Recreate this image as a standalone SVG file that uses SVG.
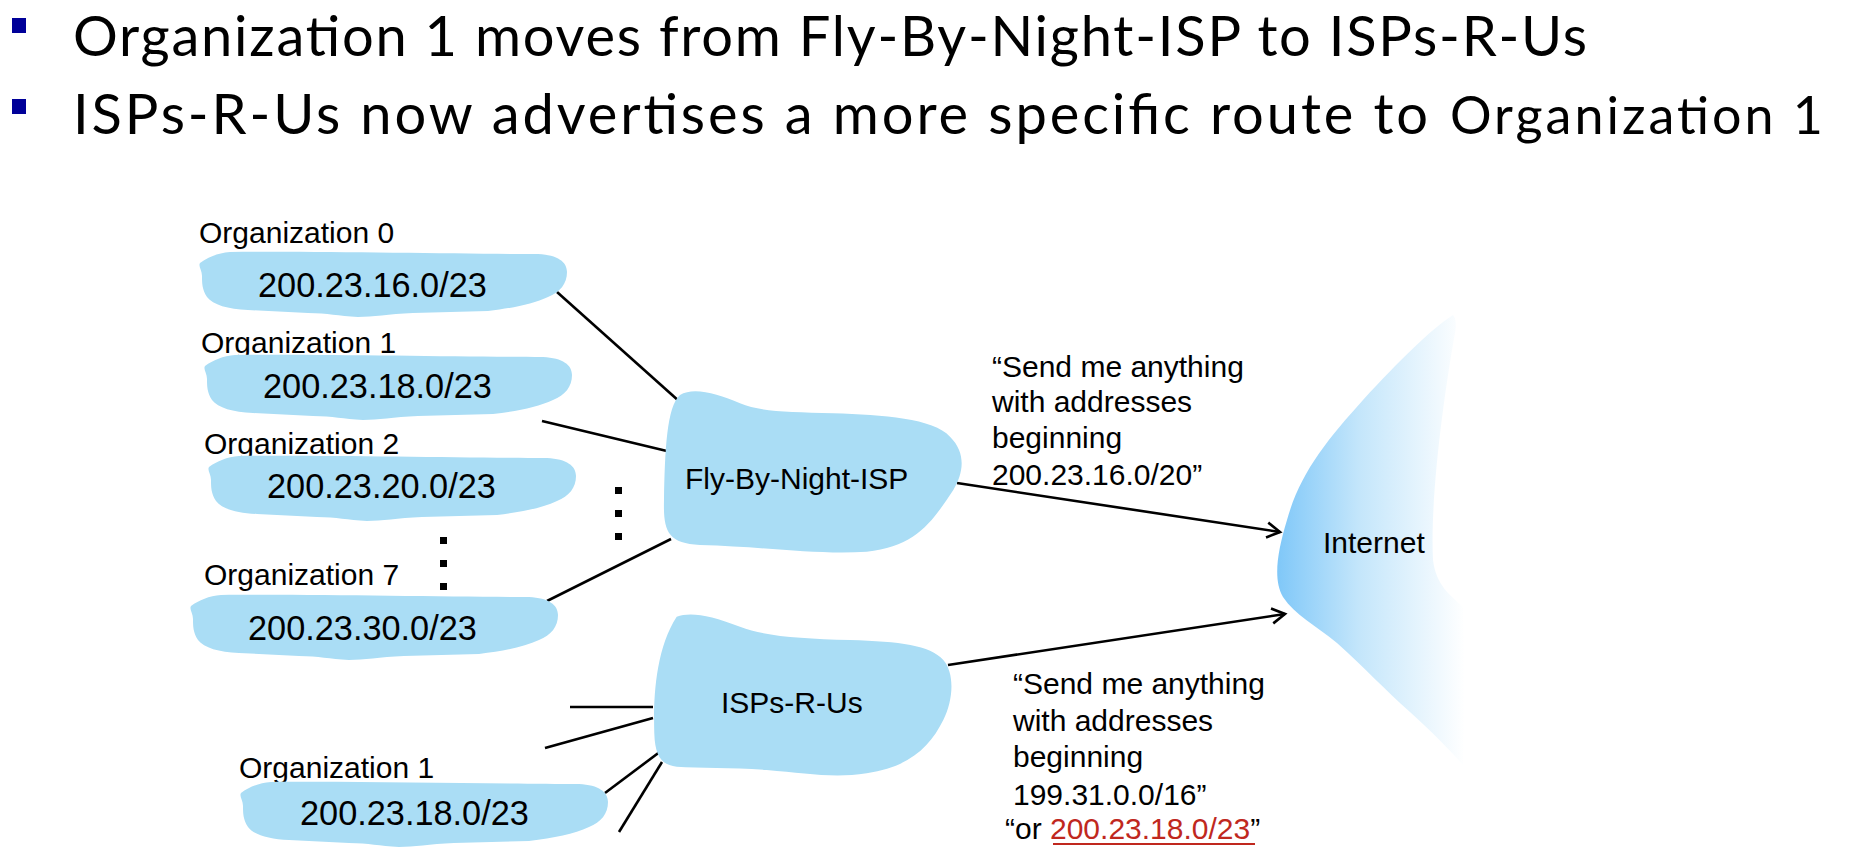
<svg xmlns="http://www.w3.org/2000/svg" width="1850" height="862" viewBox="0 0 1850 862">
  <style>
    .title { font-family: Lato, "Open Sans", sans-serif; font-size: 56px; fill: #000; }
    .title-sm { font-family: Lato, "Open Sans", sans-serif; font-size: 52px; fill: #000; }
    .bullet { fill: #000099; }
    .lbl { font-family: "Liberation Sans", Arial, sans-serif; font-size: 30px; fill: #000; }
    .addr { font-family: "Liberation Sans", Arial, sans-serif; font-size: 34.3px; fill: #000; }
    .blob { fill: #AADDF5; }
    .link { stroke: #000; stroke-width: 2.6; fill: none; }
    .dot { fill: #000; }
    .red { fill: #C0281E; }
  </style>
  <defs>
    <!-- highlighter-stroke shape used behind each organization's prefix -->
    <path id="orgShape" d="M 2 11 C 10 5, 20 1, 32 0 C 120 -1, 260 2, 340 2 C 360 3, 369 10, 369 20 C 369 32, 362 40, 350 45 C 335 52, 315 56, 290 59 L 215 61 C 190 62, 175 65, 160 65 C 140 64, 130 61, 110 61 L 50 58 C 30 57, 15 53, 9 45 C 4 38, 4 30, 4 24 C 4 18, 0 14, 2 11 Z"/>
    <marker id="arrow" viewBox="0 0 18 18" refX="15" refY="9" markerWidth="18" markerHeight="18" markerUnits="userSpaceOnUse" orient="auto">
      <path d="M 2 1.5 L 15 9 L 2 16.5" fill="none" stroke="#000" stroke-width="2.6" stroke-linejoin="miter"/>
    </marker>
    <linearGradient id="netGrad" gradientUnits="userSpaceOnUse" x1="1273" y1="0" x2="1465" y2="0">
      <stop offset="0" stop-color="#7CC6F8"/>
      <stop offset="0.45" stop-color="#C4E6FB"/>
      <stop offset="1" stop-color="#FFFFFF"/>
    </linearGradient>
  </defs>

  <!-- slide heading -->
  <g id="heading">
    <rect class="bullet" x="12" y="18" width="14" height="15"/>
    <text class="title" x="73" y="56" textLength="1514">Organization 1 moves from Fly-By-Night-ISP to ISPs-R-Us</text>
    <rect class="bullet" x="12" y="99" width="14" height="15"/>
    <text class="title" x="73" y="134" textLength="1355">ISPs-R-Us now advertises a more specific route to</text>
    <text class="title-sm" x="1450" y="134" textLength="373">Organization 1</text>
  </g>

  <!-- links between organizations, ISPs and the Internet -->
  <g id="connectors">
    <line class="link" x1="557" y1="292" x2="680" y2="402"/>
    <line class="link" x1="542" y1="421" x2="671" y2="452"/>
    <line class="link" x1="547" y1="601" x2="671" y2="539"/>
    <line class="link" x1="570" y1="707" x2="653" y2="707"/>
    <line class="link" x1="545" y1="748" x2="653" y2="718"/>
    <line class="link" x1="605" y1="793" x2="661" y2="751"/>
    <line class="link" x1="619" y1="832" x2="662" y2="762"/>
    <line class="link" x1="957" y1="483" x2="1280" y2="532" marker-end="url(#arrow)"/>
    <line class="link" x1="948" y1="665" x2="1285" y2="614" marker-end="url(#arrow)"/>
  </g>

  <!-- ellipsis marks for the organizations not shown -->
  <g id="ellipsis">
    <rect class="dot" x="440" y="537" width="7" height="7"/>
    <rect class="dot" x="440" y="560" width="7" height="7"/>
    <rect class="dot" x="440" y="583" width="7" height="7"/>
    <rect class="dot" x="615" y="487" width="7" height="7"/>
    <rect class="dot" x="615" y="510" width="7" height="7"/>
    <rect class="dot" x="615" y="533" width="7" height="7"/>
  </g>

  <g id="org0">
    <text class="lbl" x="199" y="243">Organization 0</text>
    <use href="#orgShape" class="blob" transform="translate(198 252)"/>
    <text class="addr" x="258" y="297">200.23.16.0/23</text>
  </g>
  <g id="org1">
    <text class="lbl" x="201" y="353">Organization 1</text>
    <use href="#orgShape" class="blob" transform="translate(203 355)"/>
    <text class="addr" x="263" y="398">200.23.18.0/23</text>
  </g>
  <g id="org2">
    <text class="lbl" x="204" y="454">Organization 2</text>
    <use href="#orgShape" class="blob" transform="translate(207 456)"/>
    <text class="addr" x="267" y="498">200.23.20.0/23</text>
  </g>
  <g id="org7">
    <text class="lbl" x="204" y="585">Organization 7</text>
    <use href="#orgShape" class="blob" transform="translate(189 595)"/>
    <text class="addr" x="248" y="640">200.23.30.0/23</text>
  </g>
  <g id="org1-moved">
    <text class="lbl" x="239" y="778">Organization 1</text>
    <use href="#orgShape" class="blob" transform="translate(239 782)"/>
    <text class="addr" x="300" y="825">200.23.18.0/23</text>
  </g>

  <g id="fly-by-night-isp">
    <path class="blob" d="M 680 395 C 693.3 386.7, 716.7 393.3, 740 403.3 C 760 411.7, 786.7 411.7, 833.3 413.3 C 883.3 415, 933.3 418.3, 950 436.7 C 966.7 453.3, 963.3 473.3, 953.3 490 C 933.3 520, 916.7 546.7, 866.7 551.7 C 816.7 555, 766.7 546.7, 700 545 C 666.7 543.3, 663.3 530, 664 500 C 665 450, 666.7 406.7, 680 395 Z"/>
    <text class="lbl" x="685" y="489">Fly-By-Night-ISP</text>
  </g>

  <g id="isps-r-us">
    <path class="blob" d="M 676.7 616.7 C 690 611.7, 710 615, 740 626.7 C 766.7 636.7, 800 638.3, 850 640 C 900 641.7, 930 645, 943.3 660 C 955 673.3, 953.3 700, 943.3 720 C 930 746.7, 910 766.7, 866.7 773.3 C 833.3 778.3, 806.7 773.3, 766.7 770 C 733.3 767.3, 700 768.3, 676.7 766.7 C 661.7 765, 655 756.7, 654.3 733.3 C 653.3 700, 655 650, 676.7 616.7 Z"/>
    <text class="lbl" x="721" y="713">ISPs-R-Us</text>
  </g>

  <g id="internet">
    <path fill="url(#netGrad)" d="M 1453 315 C 1430 330, 1400 360, 1363 400 C 1327 440, 1300 473, 1287 520 C 1277 553, 1273 580, 1283 597 C 1295 615, 1315 625, 1337 643 C 1365 668, 1385 690, 1410 712 C 1430 730, 1450 750, 1463 765 C 1465 720, 1465 650, 1463 607 C 1450 595, 1436 585, 1433 560 C 1430 500, 1443 400, 1455 333 C 1457 323, 1455 317, 1453 315 Z"/>
    <text class="lbl" x="1323" y="553">Internet</text>
  </g>

  <!-- route advertisements -->
  <g id="adv-fly-by-night">
    <text class="lbl" x="992" y="377">“Send me anything</text>
    <text class="lbl" x="992" y="412">with addresses</text>
    <text class="lbl" x="992" y="448">beginning</text>
    <text class="lbl" x="992" y="485">200.23.16.0/20”</text>
  </g>
  <g id="adv-isps-r-us">
    <text class="lbl" x="1013" y="694">“Send me anything</text>
    <text class="lbl" x="1013" y="731">with addresses</text>
    <text class="lbl" x="1013" y="767">beginning</text>
    <text class="lbl" x="1013" y="805">199.31.0.0/16”</text>
    <text class="lbl" x="1005" y="839">“or <tspan class="red">200.23.18.0/23</tspan>”</text>
    <line x1="1053" y1="844" x2="1255" y2="844" stroke="#C0281E" stroke-width="2.2"/>
  </g>
</svg>
